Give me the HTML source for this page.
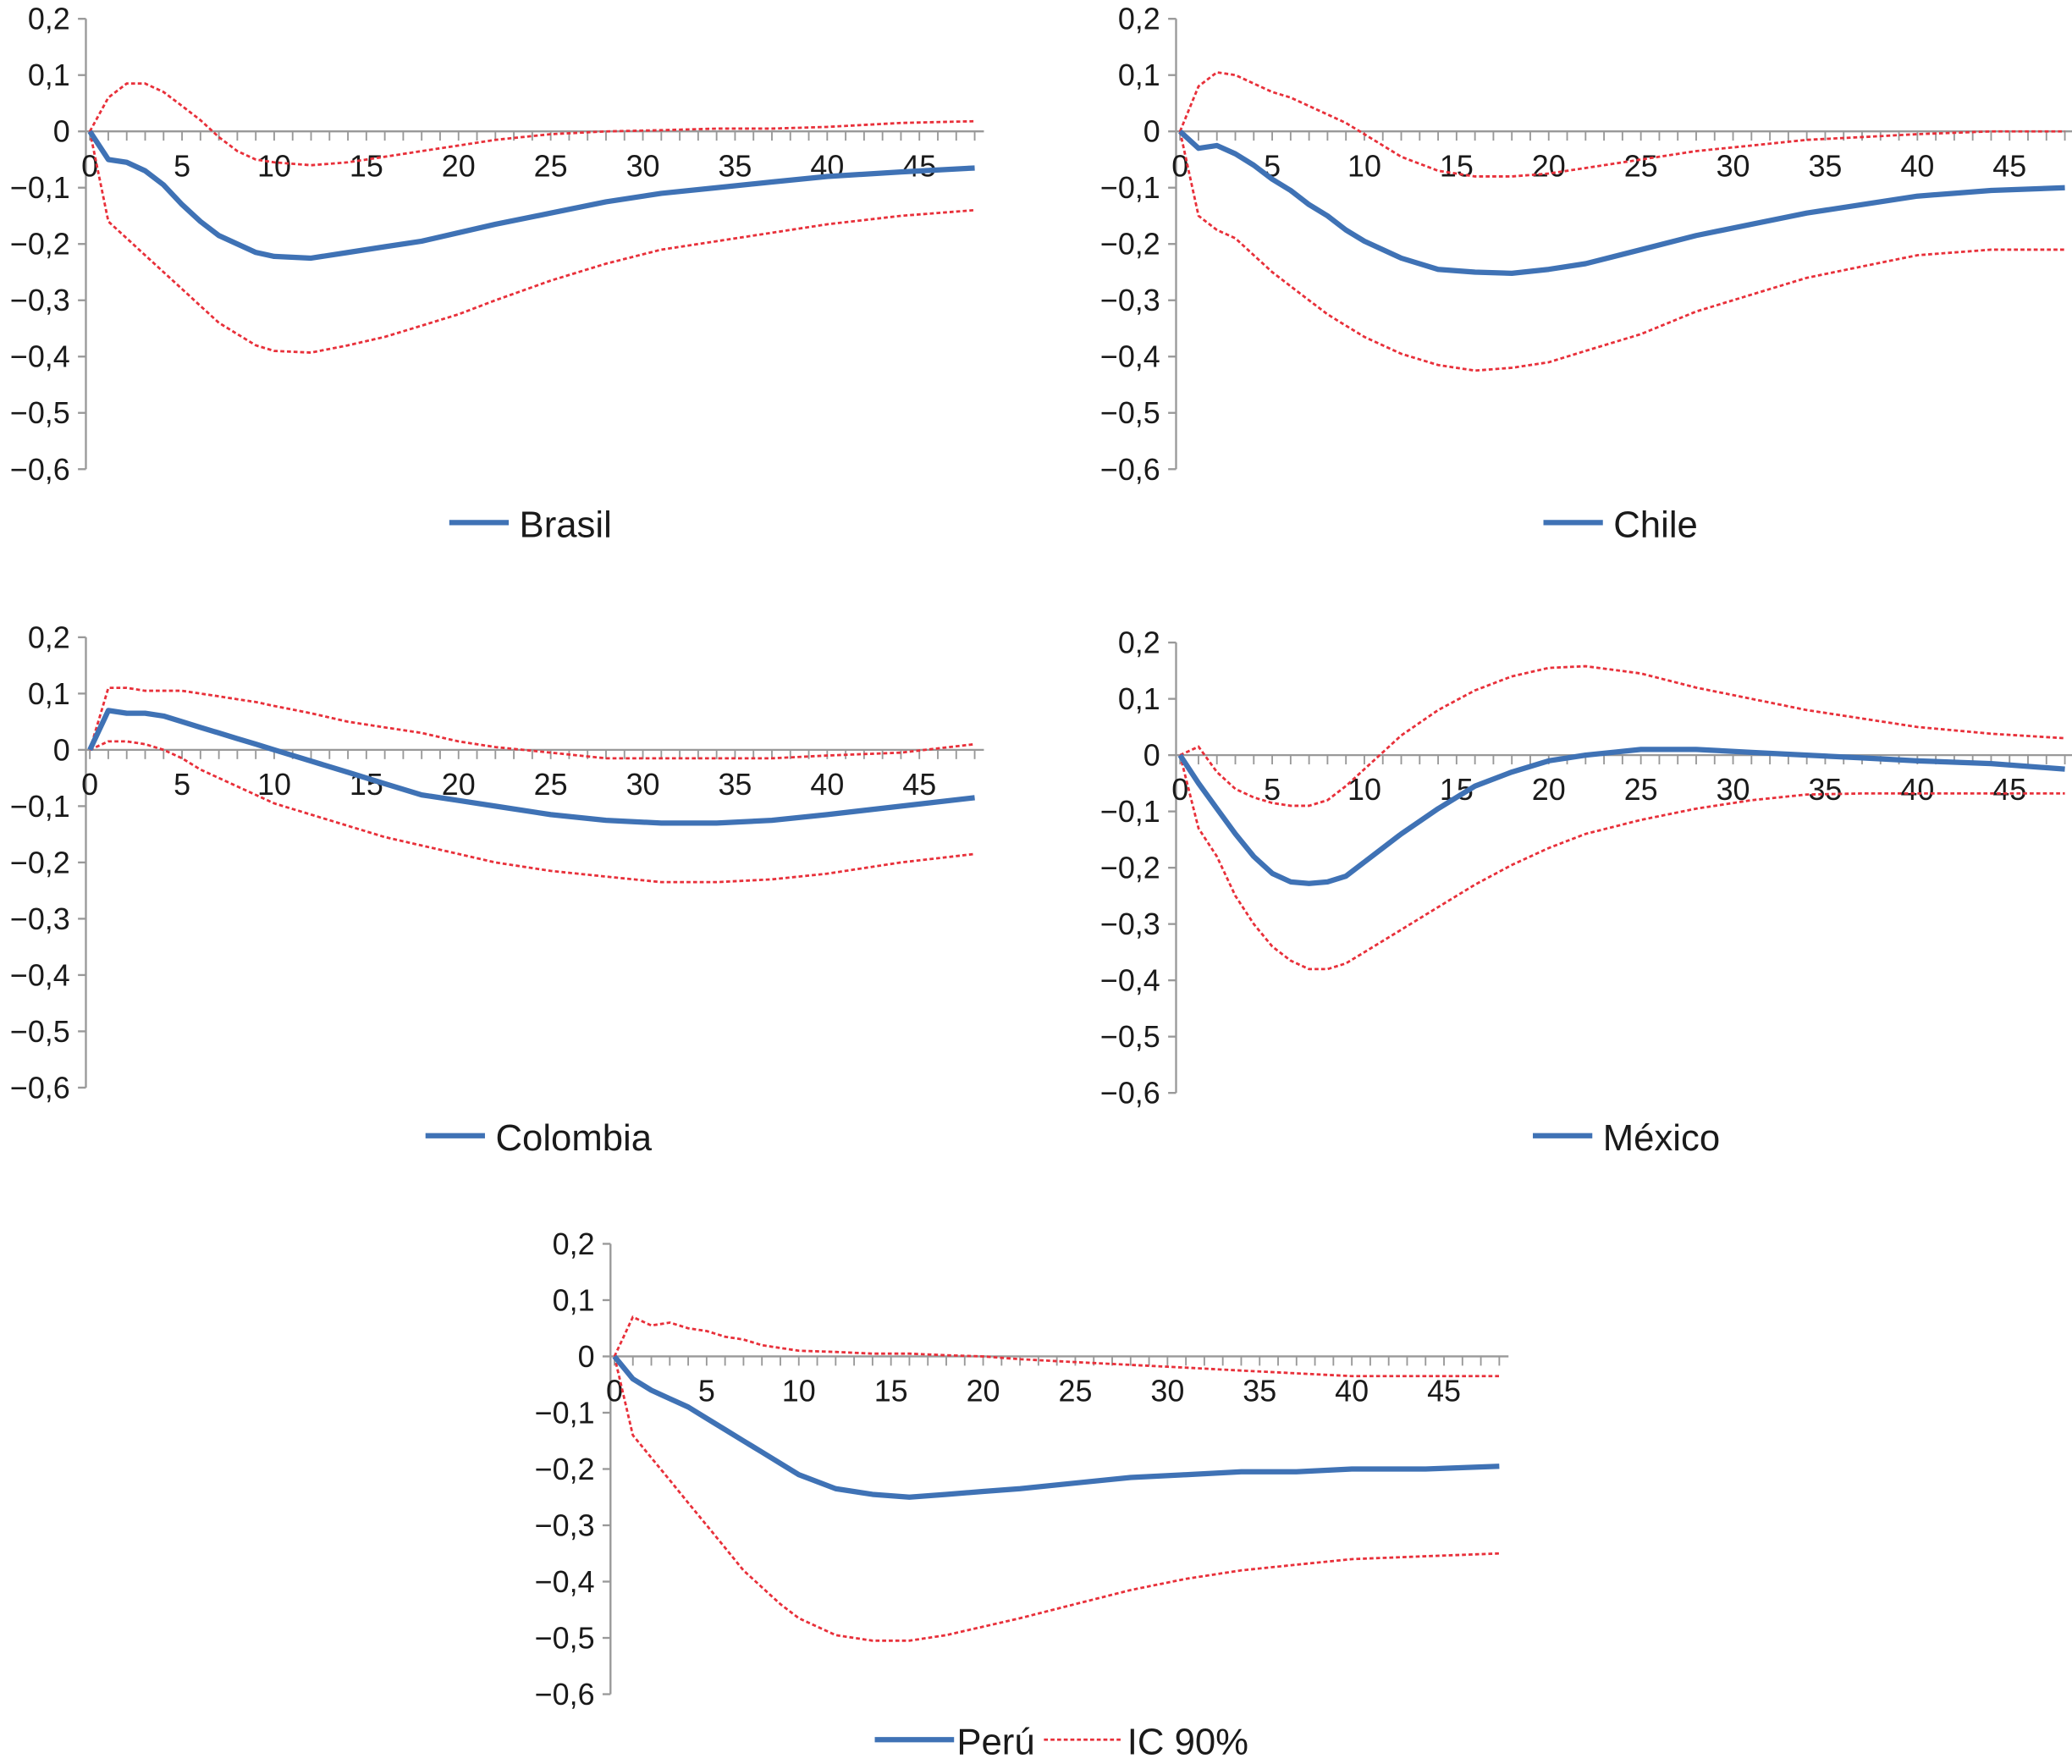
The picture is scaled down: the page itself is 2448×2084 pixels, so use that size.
<!DOCTYPE html>
<html><head><meta charset="utf-8"><style>
html,body{margin:0;padding:0;background:#fff;}
svg{display:block;}
text{font-family:"Liberation Sans",Arial,sans-serif;fill:#1a1a1a;}
</style></head><body>
<svg id="chart" width="2448" height="2084" viewBox="0 0 1568 1334" xmlns="http://www.w3.org/2000/svg"></svg>
<script>
const periods=[0,1,2,3,4,5,6,7,8,9,10,12,14,16,18,20,22,25,28,31,34,37,40,44,48];
const yTicks=[0.2,0.1,0,-0.1,-0.2,-0.3,-0.4,-0.5,-0.6];
const yTickLabels=["0,2","0,1","0","\u22120,1","\u22120,2","\u22120,3","\u22120,4","\u22120,5","\u22120,6"];
const xTicks=[0,5,10,15,20,25,30,35,40,45];
const brasilMid=[0,-0.05,-0.055,-0.07,-0.095,-0.13,-0.16,-0.185,-0.2,-0.215,-0.222,-0.225,-0.215,-0.205,-0.195,-0.18,-0.165,-0.145,-0.125,-0.11,-0.1,-0.09,-0.08,-0.072,-0.065];
const brasilUp=[0,0.06,0.085,0.085,0.07,0.045,0.02,-0.01,-0.035,-0.05,-0.055,-0.06,-0.055,-0.045,-0.035,-0.025,-0.015,-0.005,0,0.002,0.005,0.005,0.008,0.015,0.018];
const brasilLo=[0,-0.16,-0.19,-0.22,-0.25,-0.28,-0.31,-0.34,-0.36,-0.38,-0.39,-0.393,-0.38,-0.365,-0.345,-0.325,-0.3,-0.265,-0.235,-0.21,-0.195,-0.18,-0.165,-0.15,-0.14];
const chileMid=[0,-0.03,-0.025,-0.04,-0.06,-0.085,-0.105,-0.13,-0.15,-0.175,-0.195,-0.225,-0.245,-0.25,-0.252,-0.245,-0.235,-0.21,-0.185,-0.165,-0.145,-0.13,-0.115,-0.105,-0.1];
const chileUp=[0,0.08,0.105,0.1,0.085,0.07,0.06,0.045,0.03,0.015,-0.005,-0.045,-0.07,-0.08,-0.08,-0.075,-0.065,-0.05,-0.035,-0.025,-0.015,-0.01,-0.005,0,0];
const chileLo=[0,-0.15,-0.175,-0.19,-0.22,-0.25,-0.275,-0.3,-0.325,-0.345,-0.365,-0.395,-0.415,-0.425,-0.42,-0.41,-0.39,-0.36,-0.32,-0.29,-0.26,-0.24,-0.22,-0.21,-0.21];
const colMid=[0,0.07,0.065,0.065,0.06,0.05,0.04,0.03,0.02,0.01,0,-0.02,-0.04,-0.06,-0.08,-0.09,-0.1,-0.115,-0.125,-0.13,-0.13,-0.125,-0.115,-0.1,-0.085];
const colUp=[0,0.11,0.11,0.105,0.105,0.105,0.1,0.095,0.09,0.085,0.078,0.065,0.05,0.04,0.03,0.015,0.005,-0.005,-0.015,-0.015,-0.015,-0.015,-0.01,-0.005,0.01];
const colLo=[0,0.015,0.015,0.01,0,-0.015,-0.035,-0.05,-0.065,-0.08,-0.095,-0.115,-0.135,-0.155,-0.17,-0.185,-0.2,-0.215,-0.225,-0.235,-0.235,-0.23,-0.22,-0.2,-0.185];
const mexMid=[0,-0.05,-0.095,-0.14,-0.18,-0.21,-0.225,-0.228,-0.225,-0.215,-0.19,-0.14,-0.095,-0.055,-0.03,-0.01,0,0.01,0.01,0.005,0,-0.005,-0.01,-0.015,-0.025];
const mexUp=[0,0.015,-0.03,-0.06,-0.075,-0.085,-0.09,-0.09,-0.08,-0.055,-0.025,0.035,0.08,0.115,0.14,0.155,0.158,0.145,0.12,0.1,0.08,0.065,0.05,0.038,0.03];
const mexLo=[0,-0.13,-0.18,-0.25,-0.3,-0.34,-0.365,-0.38,-0.38,-0.37,-0.35,-0.31,-0.27,-0.23,-0.195,-0.165,-0.14,-0.115,-0.095,-0.08,-0.07,-0.068,-0.068,-0.068,-0.068];
const peruMid=[0,-0.04,-0.06,-0.075,-0.09,-0.11,-0.13,-0.15,-0.17,-0.19,-0.21,-0.235,-0.245,-0.25,-0.245,-0.24,-0.235,-0.225,-0.215,-0.21,-0.205,-0.205,-0.2,-0.2,-0.195];
const peruUp=[0,0.07,0.055,0.06,0.05,0.045,0.035,0.03,0.02,0.015,0.01,0.008,0.005,0.005,0.002,0,-0.005,-0.01,-0.015,-0.02,-0.025,-0.03,-0.035,-0.035,-0.035];
const peruLo=[0,-0.14,-0.18,-0.22,-0.26,-0.3,-0.34,-0.38,-0.41,-0.44,-0.465,-0.495,-0.505,-0.505,-0.495,-0.48,-0.465,-0.44,-0.415,-0.395,-0.38,-0.37,-0.36,-0.355,-0.35];

const NS="http://www.w3.org/2000/svg";
const svg=document.getElementById('chart');
function mk(tag,attrs,parent){const e=document.createElementNS(NS,tag);for(const k in attrs)e.setAttribute(k,attrs[k]);(parent||svg).appendChild(e);return e;}

const panels=[
 {key:'brasil',name:'Brasil',ax:65,x0:68,y0:99,mid:brasilMid,up:brasilUp,lo:brasilLo,legX:340,legY:397},
 {key:'chile',name:'Chile',ax:890,x0:893,y0:99,mid:chileMid,up:chileUp,lo:chileLo,legX:1168,legY:397},
 {key:'colombia',name:'Colombia',ax:65,x0:68,y0:567,mid:colMid,up:colUp,lo:colLo,legX:322,legY:861},
 {key:'mexico',name:'México',ax:890,x0:893,y0:571,mid:mexMid,up:mexUp,lo:mexLo,legX:1160,legY:861},
 {key:'peru',name:'Perú',ax:462,x0:465,y0:1026,mid:peruMid,up:peruUp,lo:peruLo,legX:662,legY:1318}
];
const dx=13.95, dy=42.6;
panels.forEach(p=>{
  const g=mk('g',{});
  
  
  const X=v=>p.x0+v*dx, Y=v=>p.y0-v*dy/0.1;
  const yAxis=mk('line',{x1:p.ax,x2:p.ax,y1:Y(0.2),y2:Y(-0.6),stroke:'#999','stroke-width':1.5},g);
  
  
  yTicks.forEach((t,i)=>{
    mk('line',{x1:p.ax-6,x2:p.ax,y1:Y(t),y2:Y(t),stroke:'#999','stroke-width':1.5},g);
    const tx=mk('text',{x:p.ax-12,y:Y(t)+8,'text-anchor':'end','font-size':23},g);
    
    
    tx.textContent=yTickLabels[i];
  });
  const xAxis=mk('line',{x1:p.ax,x2:X(48.5),y1:p.y0,y2:p.y0,stroke:'#999','stroke-width':1.5},g);
  
  
  for(let i=0;i<=48;i++) mk('line',{x1:X(i),x2:X(i),y1:p.y0,y2:p.y0+7,stroke:'#999','stroke-width':1.2},g);
  xTicks.forEach(t=>{
    const tx=mk('text',{x:X(t),y:p.y0+34,'text-anchor':'middle','font-size':23},g);
    
    
    tx.textContent=t;
  });
  const pts=a=>a.map((v,i)=>X(periods[i]).toFixed(1)+','+Y(v).toFixed(1)).join(' ');
  const u=mk('polyline',{points:pts(p.up),fill:'none',stroke:'#e8303a','stroke-width':1.8,'stroke-dasharray':'3,2'},g);
  
  
  const l=mk('polyline',{points:pts(p.lo),fill:'none',stroke:'#e8303a','stroke-width':1.8,'stroke-dasharray':'3,2'},g);
  
  
  const m=mk('polyline',{points:pts(p.mid),fill:'none',stroke:'#3f72b5','stroke-width':4,'stroke-linejoin':'round'},g);
  
  
  const lg=mk('g',{},g);
  
  
  const lw=p.key==='peru'?60:45;
  mk('line',{x1:p.legX,x2:p.legX+lw,y1:p.legY-2,y2:p.legY-2,stroke:'#3f72b5','stroke-width':4},lg);
  const lt=mk('text',{x:p.legX+lw+(p.key==='peru'?2:8),y:p.legY+9,'font-size':28},lg);
  lt.textContent=p.name;
  if(p.key==='peru'){
    const cg=mk('g',{},g);
    
    
    mk('line',{x1:790,x2:848,y1:1316,y2:1316,stroke:'#e8303a','stroke-width':1.8,'stroke-dasharray':'3,2'},cg);
    const ct=mk('text',{x:853,y:1327,'font-size':28},cg);
    ct.textContent='IC 90%';
  }
});
</script>
</body></html>
